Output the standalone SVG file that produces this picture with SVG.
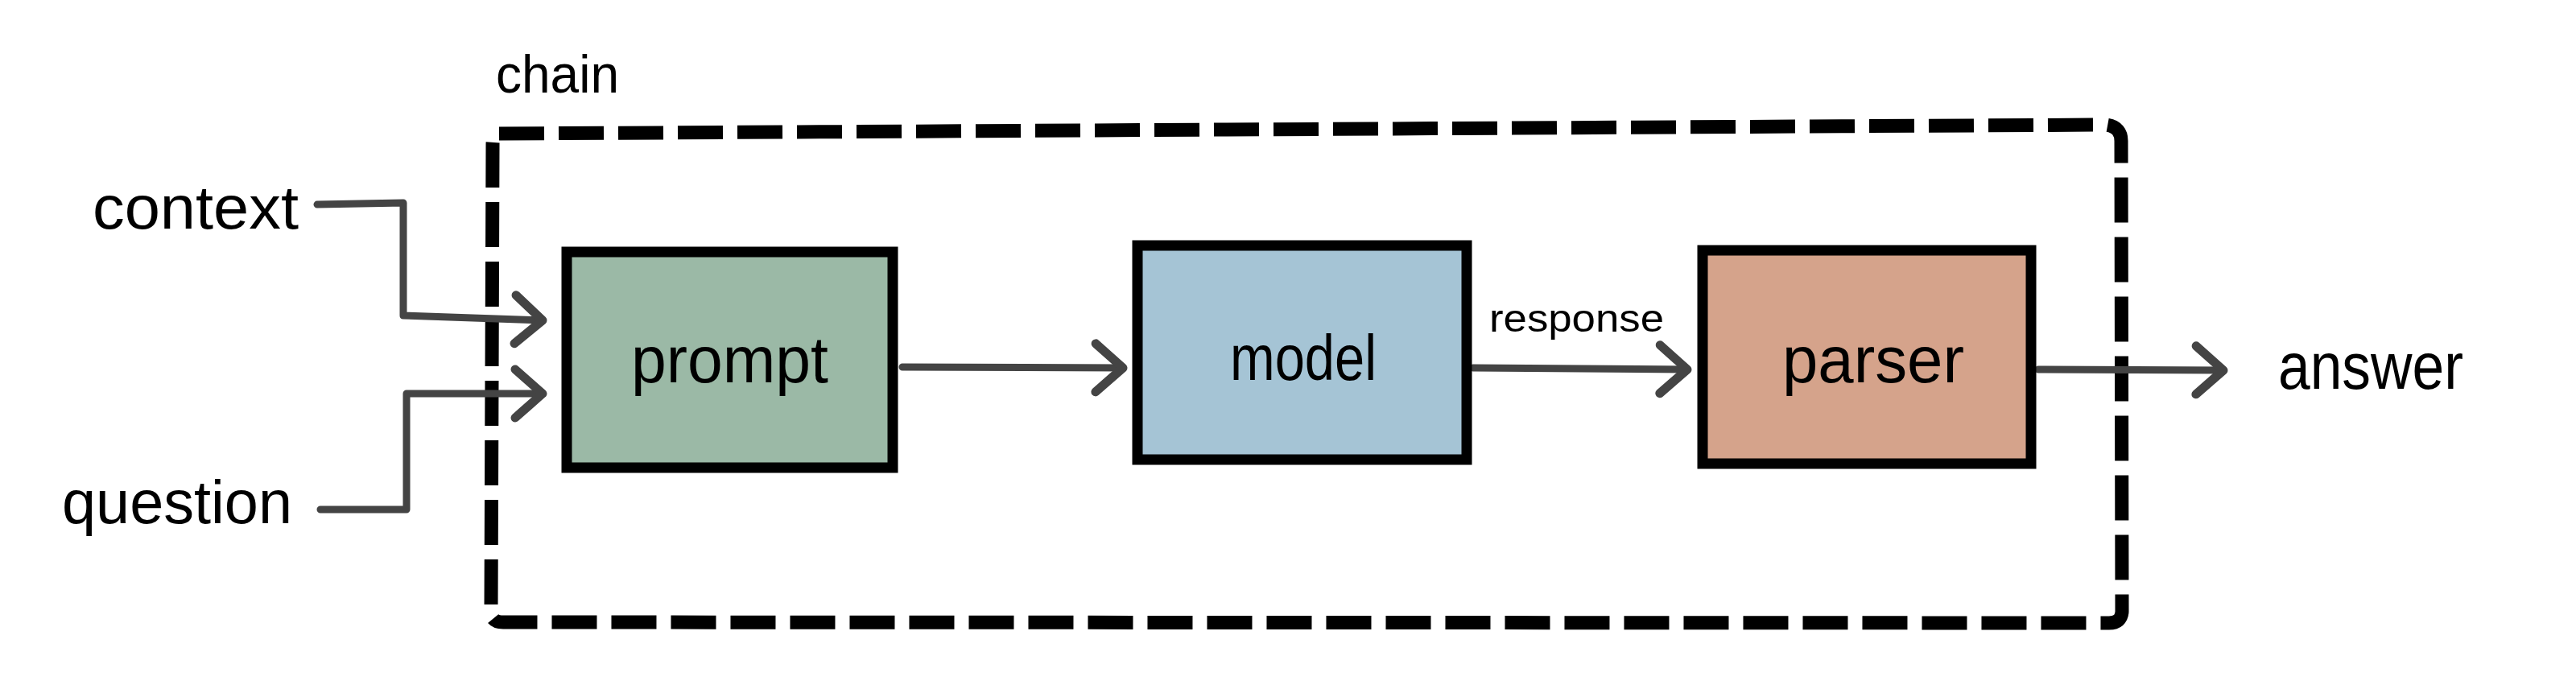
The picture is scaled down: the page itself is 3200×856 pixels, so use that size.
<svg xmlns="http://www.w3.org/2000/svg" width="3200" height="856" viewBox="0 0 3200 856">
<style>
.lbl{font-family:"Liberation Sans","DejaVu Sans",sans-serif;fill:#000;}
.box{stroke:#000;stroke-width:13;stroke-linejoin:miter;}
.conn{fill:none;stroke:#444;stroke-width:9;stroke-linejoin:round;stroke-linecap:round;}
.frame{fill:none;stroke:#000;stroke-width:17;stroke-dasharray:56 18;stroke-linejoin:round;}
</style>
<defs>
<marker id="arr" markerUnits="userSpaceOnUse" viewBox="-50 -40 60 80" markerWidth="60" markerHeight="80" refX="0" refY="0" orient="auto">
<path d="M-34,-30 L0,0 L-34,30" fill="none" stroke="#444" stroke-width="11" stroke-linecap="round" stroke-linejoin="round"/>
</marker>
</defs>
<rect width="3200" height="856" fill="#fff"/>
<g id="chain">
<path class="frame" d="M620,166 L2615,155 Q2635,157 2635,175 L2636,760 Q2635,774 2620,774 L625,773 Q610,773 610,760 L612,180 Q612,166 620,166 Z"/>
<text class="lbl" x="616" y="115" font-size="66" textLength="153" lengthAdjust="spacingAndGlyphs">chain</text>
</g>
<g id="connectors">
<path class="conn" d="M394,254 L501,252 L501,392 L674,398" marker-end="url(#arr)"/>
<path class="conn" d="M398,633 L505,633 L505,489 L674,489" marker-end="url(#arr)"/>
<path class="conn" d="M1121,456 L1395,457" marker-end="url(#arr)"/>
<path class="conn" d="M1830,457 L2096,459" marker-end="url(#arr)"/>
<path class="conn" d="M2532,459 L2762,460" marker-end="url(#arr)"/>
<text class="lbl" x="1850" y="412" font-size="48" textLength="217" lengthAdjust="spacingAndGlyphs">response</text>
</g>
<g id="context">
<text class="lbl" x="115" y="284" font-size="76" textLength="256" lengthAdjust="spacingAndGlyphs">context</text>
</g>
<g id="question">
<text class="lbl" x="77" y="650" font-size="76" textLength="286" lengthAdjust="spacingAndGlyphs">question</text>
</g>
<g id="prompt">
<rect class="box" x="704" y="313" width="405" height="268" fill="#9bb9a6"/>
<text class="lbl" x="784" y="475" font-size="82" textLength="245" lengthAdjust="spacingAndGlyphs">prompt</text>
</g>
<g id="model">
<rect class="box" x="1413" y="305" width="409" height="266" fill="#a5c4d5"/>
<text class="lbl" x="1528" y="472" font-size="80" textLength="182" lengthAdjust="spacingAndGlyphs">model</text>
</g>
<g id="parser">
<rect class="box" x="2115" y="311" width="408" height="265" fill="#d5a38b"/>
<text class="lbl" x="2214" y="475" font-size="82" textLength="226" lengthAdjust="spacingAndGlyphs">parser</text>
</g>
<g id="answer">
<text class="lbl" x="2830" y="483" font-size="82" textLength="230" lengthAdjust="spacingAndGlyphs">answer</text>
</g>
</svg>
